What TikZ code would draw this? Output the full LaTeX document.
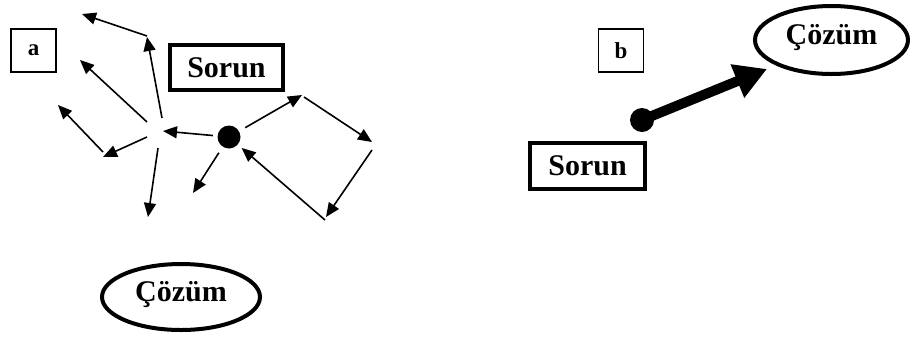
\documentclass[tikz,border=0pt]{standalone}
\usepackage{fontspec}
\setmainfont{Liberation Serif}
\usetikzlibrary{shapes.geometric,arrows.meta}
\tikzset{
  thinarrow/.style={line width=1.6pt,-{Triangle[length=14pt,width=12pt]}},
  thickbox/.style={draw,line width=4pt,inner sep=0pt,font=\fontsize{30}{30}\selectfont\bfseries},
  labelbox/.style={draw,line width=1.5pt,inner sep=0pt,minimum width=45pt,minimum height=43pt,font=\fontsize{23}{23}\selectfont\bfseries},
  solution/.style={draw,ellipse,line width=4pt,inner sep=0pt,font=\fontsize{30}{30}\selectfont\bfseries,text height=22pt,text depth=14pt},
  dotnode/.style={circle,fill=black,inner sep=0pt,minimum size=23pt},
}
\begin{document}
\begin{tikzpicture}[x=1pt,y=-1pt]
\path[use as bounding box] (0,0) rectangle (912,338);
% ---- part a ----
\node[labelbox] (boxa) at (33.5,50.5) {a};
\node[thickbox,minimum width=113pt,minimum height=45pt] (sorunA) at (226.5,67.5) {Sorun};
\node[solution,minimum width=158pt,minimum height=66pt] (cozumA) at (181,297) {Çözüm};
\node[dotnode] (dotA) at (229,137) {};
\coordinate (a1s) at (147,36);  \coordinate (a1e) at (82,14);
\coordinate (a2s) at (162,118); \coordinate (a2e) at (147,37);
\coordinate (a3s) at (147,122); \coordinate (a3e) at (80,60);
\coordinate (a4s) at (103,152); \coordinate (a4e) at (58,105);
\coordinate (a5s) at (147,137); \coordinate (a5e) at (103,157);
\coordinate (a6s) at (158,148); \coordinate (a6e) at (148,217);
\coordinate (a7e) at (163,131);
\coordinate (a8e) at (193,193);
\coordinate (a9e) at (302,95);
\coordinate (a10s) at (304,97); \coordinate (a10e) at (372,142);
\coordinate (a11s) at (372,150); \coordinate (a11e) at (326,217);
\coordinate (a12s) at (325,220);
\draw[thinarrow] (a1s) -- (a1e);
\draw[thinarrow] (a2s) -- (a2e);
\draw[thinarrow] (a3s) -- (a3e);
\draw[thinarrow] (a4s) -- (a4e);
\draw[thinarrow] (a5s) -- (a5e);
\draw[thinarrow] (a6s) -- (a6e);
\draw[thinarrow,shorten <=4.5pt] (dotA) -- (a7e);
\draw[thinarrow,shorten <=7pt] (dotA) -- (a8e);
\draw[thinarrow,shorten <=7pt] (dotA) -- (a9e);
\draw[thinarrow] (a10s) -- (a10e);
\draw[thinarrow] (a11s) -- (a11e);
\draw[thinarrow,shorten >=5pt] (a12s) -- (dotA);
% ---- part b ----
\node[labelbox] (boxb) at (621,50.5) {b};
\node[thickbox,minimum width=115pt,minimum height=46pt] (sorunB) at (587.5,166) {Sorun};
\node[solution,minimum width=153pt,minimum height=68pt,text height=22pt,text depth=14pt] (cozumB) at (831.5,40) {Çözüm};
\node[dotnode,minimum size=24pt] (dotB) at (642,120) {};
\coordinate (bEnd) at (767,69);
\draw[line width=10pt,-{Triangle[length=32pt,width=34pt]},shorten <=-2pt] (dotB) -- (bEnd);
\end{tikzpicture}
\end{document}
